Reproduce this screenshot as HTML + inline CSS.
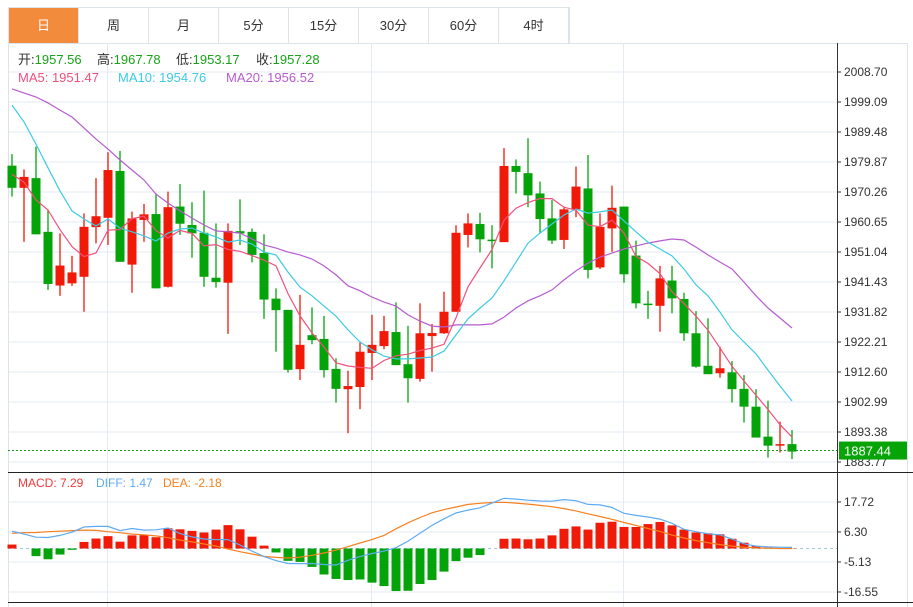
<!DOCTYPE html>
<html><head><meta charset="utf-8">
<style>
html,body{margin:0;padding:0;background:#fff;width:913px;height:607px;overflow:hidden;font-family:"Liberation Sans","Noto Sans CJK SC",sans-serif}
.tabs{position:absolute;left:8px;top:7px;height:36px;display:flex;border:1px solid #dde3ea;border-bottom:none;box-sizing:border-box}
.tab{width:70px;height:35px;line-height:35px;text-align:center;font-size:13px;color:#333;border-right:1px solid #dde3ea;box-sizing:border-box}
.tab.on{background:#f28b3c;color:#fff}
svg{position:absolute;left:0;top:0}
</style></head><body>
<div class="tabs">
<div class="tab on">日</div>
<div class="tab">周</div>
<div class="tab">月</div>
<div class="tab">5分</div>
<div class="tab">15分</div>
<div class="tab">30分</div>
<div class="tab">60分</div>
<div class="tab">4时</div>
</div>
<svg id="chart" width="913" height="607" font-family="Liberation Sans, Noto Sans CJK SC, sans-serif"></svg>
<script>
const opens=[1978.7,1971.6,1974.7,1957.5,1940.3,1941.0,1943.1,1959.0,1962.0,1977.0,1947.0,1961.3,1963.2,1939.9,1965.6,1959.7,1957.2,1942.8,1941.2,1957.7,1957.5,1950.7,1936.1,1932.5,1913.5,1924.4,1923.2,1913.6,1907.1,1907.8,1918.7,1920.9,1925.4,1915.1,1910.4,1924.1,1925.0,1931.9,1956.5,1960.0,1955.0,1954.2,1978.6,1976.3,1969.8,1961.8,1954.9,1964.7,1971.4,1946.1,1958.6,1965.6,1949.9,1934.5,1933.8,1941.9,1936.0,1925.0,1914.6,1912.2,1912.5,1907.2,1901.5,1891.9,1889.0,1889.5];
const highs=[1982.4,1977.5,1984.8,1964.5,1957.0,1949.8,1963.4,1974.7,1983.0,1983.4,1964.0,1966.4,1969.8,1970.4,1972.8,1967.0,1970.7,1960.2,1960.2,1967.9,1958.6,1956.7,1939.4,1932.5,1937.3,1933.3,1930.6,1917.0,1913.0,1922.1,1930.9,1930.6,1934.9,1927.4,1934.6,1928.0,1938.3,1959.6,1963.4,1963.6,1959.6,1984.3,1980.7,1987.5,1973.6,1967.7,1965.4,1978.4,1982.1,1963.4,1972.3,1965.6,1954.7,1938.6,1946.6,1946.6,1938.0,1932.1,1929.8,1920.7,1916.1,1911.6,1907.1,1903.4,1896.7,1894.0];
const lows=[1968.8,1954.3,1956.7,1938.9,1937.0,1940.2,1931.9,1953.8,1953.3,1947.9,1938.0,1954.3,1939.4,1939.7,1956.5,1949.2,1939.9,1939.6,1924.8,1953.3,1947.7,1929.6,1919.1,1912.4,1910.0,1921.5,1910.8,1902.8,1893.0,1900.7,1910.0,1919.9,1914.8,1902.8,1909.5,1912.7,1924.8,1931.9,1952.5,1950.9,1945.8,1954.2,1969.8,1965.4,1957.0,1953.6,1952.0,1962.2,1942.6,1945.6,1951.1,1941.2,1933.0,1929.6,1925.5,1931.4,1922.6,1914.0,1911.9,1910.8,1902.8,1896.4,1891.6,1885.2,1886.8,1884.7];
const closes=[1971.6,1975.1,1956.7,1940.8,1946.7,1944.5,1959.1,1962.5,1977.3,1947.9,1961.8,1963.1,1939.4,1965.4,1960.1,1957.0,1943.1,1941.4,1957.8,1957.0,1950.1,1935.8,1932.4,1913.3,1921.3,1922.8,1913.2,1907.2,1908.1,1919.1,1921.3,1925.7,1914.8,1910.6,1925.0,1925.1,1931.9,1957.2,1960.2,1955.1,1954.8,1978.6,1976.7,1969.2,1961.6,1954.7,1964.7,1972.0,1945.3,1959.1,1965.2,1943.9,1934.6,1934.2,1942.6,1936.2,1925.0,1914.3,1911.9,1913.8,1907.1,1901.5,1891.6,1889.0,1889.5,1887.1];
const prevCloses=[1987.7,1985.2,1956.8,1978.3];
const ma10=[1998.1,1992.7,1985.6,1978.0,1970.6,1964.2,1961.6,1959.4,1961.6,1958.7,1957.5,1956.2,1954.6,1957.1,1958.4,1958.7,1957.1,1955.9,1954.2,1954.9,1953.6,1951.0,1950.1,1944.6,1939.8,1937.0,1933.7,1930.5,1926.1,1922.2,1919.7,1917.7,1916.8,1916.8,1917.1,1917.4,1919.3,1924.5,1929.6,1933.1,1936.3,1941.8,1947.8,1953.9,1957.1,1960.0,1962.9,1964.8,1963.5,1963.9,1964.5,1961.0,1957.5,1954.2,1952.0,1949.8,1945.6,1940.5,1937.0,1931.8,1926.1,1922.2,1918.4,1913.2,1908.1,1903.3];
const ma20=[2003.3,2002.0,2000.7,1998.8,1996.5,1994.3,1990.8,1987.2,1984.0,1980.5,1977.3,1974.1,1969.6,1966.7,1964.2,1961.9,1959.7,1957.8,1957.5,1957.1,1955.2,1953.3,1952.3,1951.0,1950.1,1948.8,1946.6,1943.7,1940.2,1938.6,1936.6,1935.0,1933.7,1930.9,1928.9,1927.3,1927.0,1927.7,1927.7,1927.7,1928.0,1930.2,1933.1,1935.4,1937.0,1938.9,1942.1,1945.0,1947.5,1949.4,1950.7,1952.0,1953.0,1953.9,1954.6,1955.2,1954.9,1952.6,1950.1,1947.8,1945.6,1941.4,1937.0,1933.1,1929.9,1926.7];
const macdHist=[1.5,0,-2.9,-4.1,-2.3,-0.5,2.5,3.8,4.7,2.6,5.0,5.1,4.3,7.7,7.3,6.7,6.1,7.2,8.9,7.3,4.5,1.1,-1.5,-4.7,-5.1,-7.0,-9.9,-11.6,-12.0,-11.8,-13.0,-14.3,-16.2,-16.1,-13.5,-12.0,-8.8,-4.8,-3.5,-2.5,0,3.7,3.8,3.5,3.8,5.0,7.5,8.4,7.2,9.8,10.2,8.2,8.2,9.3,10.1,8.8,7.2,6.1,5.8,5.4,3.7,2.2,0.9,0.3,0.1,0.1];
const diff=[6.6,5.5,4.3,4.2,5.0,6.2,8.2,8.4,8.4,6.8,7.6,7.0,7.1,7.8,5.7,4.4,3.6,3.4,3.4,1.3,-1.0,-3.1,-4.6,-5.7,-5.8,-5.7,-6.1,-6.3,-4.5,-3.1,-1.9,-1.0,0.3,2.8,5.8,8.8,11.3,13.5,14.6,15.5,17.3,19.1,18.8,18.4,18.1,18.0,18.6,18.2,16.8,16.6,15.6,13.4,12.6,12.0,11.2,9.6,7.3,6.4,5.6,5.2,3.6,1.8,0.9,0.6,0.5,0.4];
const dea=[5.8,6.0,6.1,6.4,6.6,6.8,7.0,6.9,6.4,6.0,5.5,5.2,4.8,4.1,3.2,2.5,1.7,0.9,-0.2,-1.2,-2.1,-3.0,-3.4,-3.6,-3.3,-2.6,-1.7,-0.6,0.7,2.1,3.4,5.0,7.5,9.8,11.8,13.6,14.8,15.8,16.8,17.2,17.5,17.6,17.3,16.9,16.4,15.9,15.2,14.3,13.2,12.2,11.1,9.9,8.8,7.6,6.5,5.1,4.0,3.0,2.2,1.5,0.9,0.5,0.2,0.1,0,0];
const priceTicks=[2008.70,1999.09,1989.48,1979.87,1970.26,1960.65,1951.04,1941.43,1931.82,1922.21,1912.60,1902.99,1893.38,1883.77];
const macdTicks=[17.72,6.30,-5.13,-16.55];
const lastPrice=1887.44;

const svg=document.getElementById('chart');
const NS='http://www.w3.org/2000/svg';
function mk(tag,attrs,parent){const e=document.createElementNS(NS,tag);for(const k in attrs)e.setAttribute(k,attrs[k]);(parent||svg).appendChild(e);return e;}
const X0=12,DX=12;
const xs=i=>X0+DX*i;
const yP=p=>72+(2008.70-p)*(30/9.61);
const yM=v=>548.5-v*(30/11.42);
const UP='#f01a08',DN='#05a30a';

// frame & grid
const grid=mk('g',{});


mk('line',{x1:8,y1:43.5,x2:908,y2:43.5,stroke:'#dde3ea'},grid);
priceTicks.forEach(t=>mk('line',{x1:8,y1:yP(t),x2:837,y2:yP(t),stroke:'#e3eaf1'},grid));
macdTicks.forEach(t=>mk('line',{x1:8,y1:yM(t),x2:837,y2:yM(t),stroke:'#e3eaf1'},grid));
[107.5,371.5,623.5].forEach(x=>mk('line',{x1:x,y1:43,x2:x,y2:607,stroke:'#e3eaf1'},grid));
mk('line',{x1:8.5,y1:43,x2:8.5,y2:607,stroke:'#dde3ea'},grid);
mk('line',{x1:907.5,y1:43,x2:907.5,y2:607,stroke:'#dde3ea'},grid);
mk('line',{x1:8,y1:472.5,x2:913,y2:472.5,stroke:'#222'},grid);
mk('line',{x1:8,y1:602.5,x2:913,y2:602.5,stroke:'#222'},grid);
mk('line',{x1:837.5,y1:43,x2:837.5,y2:607,stroke:'#333'},grid);
mk('line',{x1:8,y1:548.5,x2:837,y2:548.5,stroke:'#9cc8dd','stroke-dasharray':'3,3'},grid);

// price axis
const pax=mk('g',{'font-size':12,fill:'#333'});


priceTicks.forEach(t=>{mk('line',{x1:837,y1:yP(t),x2:841,y2:yP(t),stroke:'#333'},pax);const tx=mk('text',{x:844,y:yP(t)+4},pax);tx.textContent=t.toFixed(2);});
const max=mk('g',{'font-size':12,fill:'#333'});


macdTicks.forEach(t=>{mk('line',{x1:837,y1:yM(t),x2:841,y2:yM(t),stroke:'#333'},max);const tx=mk('text',{x:844,y:yM(t)+4},max);tx.textContent=t.toFixed(2);});

// candles
const cg=mk('g',{});


opens.forEach((o,i)=>{
  const c=closes[i],col=c>=o?UP:DN,x=xs(i);
  const g=mk('g',{},cg);
  
  
  mk('line',{x1:x,y1:yP(highs[i]),x2:x,y2:yP(lows[i]),stroke:col,'stroke-width':1.3},g);
  const t=Math.min(yP(o),yP(c)),h=Math.max(1.5,Math.abs(yP(o)-yP(c)));
  mk('rect',{x:x-4.5,y:t,width:9,height:h,fill:col},g);
});

// MAs
function line(vals,col,name,yf){const pts=vals.map((v,i)=>v==null?null:xs(i)+','+yf(v).toFixed(1)).filter(Boolean).join(' ');const p=mk('polyline',{points:pts,fill:'none',stroke:col,'stroke-width':1.2});}
const all=prevCloses.concat(closes);
const ma5=closes.map((c,i)=>{let s=0;for(let k=0;k<5;k++)s+=all[i+4-k];return s/5;});
line(ma20,'#b65ccf','ma20-line',yP);
line(ma10,'#3ccbe3','ma10-line',yP);
line(ma5,'#f0517c','ma5-line',yP);

// last price
const lp=mk('line',{x1:8,y1:yP(lastPrice),x2:837,y2:yP(lastPrice),stroke:'#1a9a1a','stroke-dasharray':'2,2'});


const lb=mk('g',{});


mk('rect',{x:839,y:yP(lastPrice)-9,width:68,height:18,fill:'#06a406'},lb);
const lt=mk('text',{x:844,y:yP(lastPrice)+5,fill:'#fff','font-size':13},lb);lt.textContent=lastPrice.toFixed(2);

// MACD
const mg=mk('g',{});


macdHist.forEach((v,i)=>{if(v===0)return;const y0=yM(0),y1=yM(v);const b=mk('rect',{x:xs(i)-4.5,y:Math.min(y0,y1),width:9,height:Math.abs(y1-y0),fill:v>0?UP:DN},mg);});
line(dea,'#f6801f','dea-line',yM);
line(diff,'#5eabf2','diff-line',yM);

// legends
function txt(x,y,s,col,name,size){const t=mk('text',{x:x,y:y,fill:col,'font-size':size||13});t.textContent=s;return t;}
const ohlc=[['开:','1957.56',18],['高:','1967.78',97],['低:','1953.17',176],['收:','1957.28',256]];
ohlc.forEach((a,k)=>{const t=mk('text',{x:a[2],y:64,'font-size':13});const s1=mk('tspan',{fill:'#333'},t);s1.textContent=a[0];const s2=mk('tspan',{fill:'#17a317'},t);s2.textContent=a[1];});
txt(18,82,'MA5: 1951.47','#f0517c','ma5-legend');
txt(118,82,'MA10: 1954.76','#3ccbe3','ma10-legend');
txt(226,82,'MA20: 1956.52','#b65ccf','ma20-legend');
txt(18,487,'MACD: 7.29','#f03a3a','macd-legend',12);
txt(96,487,'DIFF: 1.47','#5eabf2','diff-legend',12);
txt(163,487,'DEA: -2.18','#f6801f','dea-legend',12);
</script>
</body></html>
